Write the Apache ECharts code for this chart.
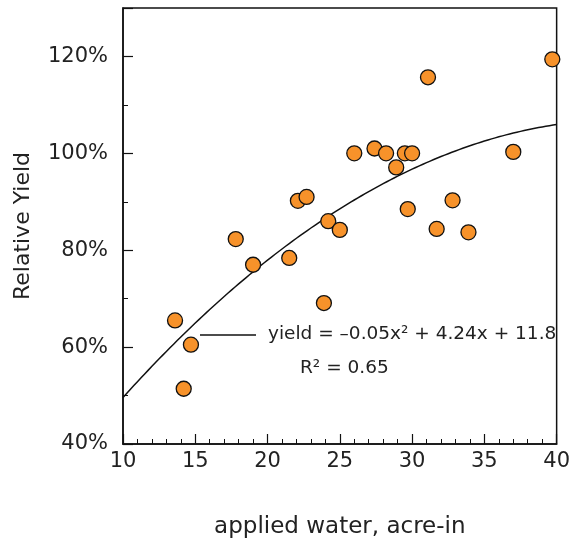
<!DOCTYPE html>
<html>
<head>
<meta charset="utf-8">
<script src="https://cdn.jsdelivr.net/npm/echarts@6/dist/echarts.min.js"></script>
<style>
  html, body { margin: 0; padding: 0; background: #fff; }
  #chart { width: 573px; height: 546px; }
</style>
</head>
<body>
<div id="chart"></div>
<script>
// Applied water (acre-in) for each plot
const appliedWater = [13.6, 14.2, 14.7, 17.8, 19.0, 21.5, 22.1, 22.7, 23.9, 24.2, 25.0,
  26.0, 27.4, 28.2, 28.9, 29.5, 30.0, 29.7, 31.1, 31.7, 32.8, 33.9, 37.0, 39.7];
// Relative yield (%) for each plot
const relativeYield = [65.5, 51.4, 60.5, 82.3, 77.0, 78.4, 90.2, 91.0, 69.1, 86.0, 84.2,
  100.0, 101.0, 100.0, 97.1, 100.0, 100.0, 88.5, 115.7, 84.4, 90.3, 83.7, 100.3, 119.4];
// Tick labels on the axes
const xTickLabels = ['10', '15', '20', '25', '30', '35', '40'];
const yTickLabels = ['40%', '60%', '80%', '100%', '120%'];
// Annotation text
const equationText = 'yield = –0.05x² + 4.24x + 11.8';
const r2Text = 'R² = 0.65';

// Quadratic least-squares fit of yield on applied water
function quadFit(xs, ys) {
  let S = [0, 0, 0, 0, 0], T = [0, 0, 0];
  for (let i = 0; i < xs.length; i++) {
    let p = 1;
    for (let k = 0; k < 5; k++) { S[k] += p; if (k < 3) T[k] += p * ys[i]; p *= xs[i]; }
  }
  const A = [[S[0], S[1], S[2], T[0]], [S[1], S[2], S[3], T[1]], [S[2], S[3], S[4], T[2]]];
  for (let c = 0; c < 3; c++) {
    for (let r = c + 1; r < 3; r++) {
      const f = A[r][c] / A[c][c];
      for (let k = c; k < 4; k++) A[r][k] -= f * A[c][k];
    }
  }
  const sol = [0, 0, 0];
  for (let r = 2; r >= 0; r--) {
    let s = A[r][3];
    for (let k = r + 1; k < 3; k++) s -= A[r][k] * sol[k];
    sol[r] = s / A[r][r];
  }
  return sol; // [c, b, a]
}
const coef = quadFit(appliedWater, relativeYield);
const fitLine = [];
for (let x = 10; x <= 40.0001; x += 0.25) {
  fitLine.push([x, coef[0] + coef[1] * x + coef[2] * x * x]);
}

const points = appliedWater.map((x, i) => [x, relativeYield[i]]);
const font = 'DejaVu Sans';
const textColor = '#222';

const chart = echarts.init(document.getElementById('chart'));
chart.setOption({
  animation: false,
  grid: { left: 123, right: 14, top: 8, bottom: 102, show: true, borderColor: '#111', borderWidth: 1.5, backgroundColor: 'transparent' },
  xAxis: {
    type: 'value', min: 10, max: 40, interval: 5,
    name: 'applied water, acre-in', nameLocation: 'middle', nameGap: 72,
    nameTextStyle: { fontFamily: font, fontSize: 23, color: textColor },
    axisLine: { lineStyle: { color: '#111', width: 1.5 } },
    axisTick: { inside: true, length: 10, lineStyle: { color: '#111', width: 1.2 } },
    minorTick: { show: true, splitNumber: 5, length: 5, lineStyle: { color: '#111', width: 1 } },
    splitLine: { show: false },
    axisLabel: {
      margin: 7, fontFamily: font, fontSize: 21, color: textColor,
      formatter: v => xTickLabels.includes(String(v)) ? String(v) : ''
    }
  },
  yAxis: [{
    type: 'value', min: 40, max: 130, interval: 10,
    name: 'Relative Yield', nameLocation: 'middle', nameGap: 89,
    nameTextStyle: { fontFamily: font, fontSize: 22, color: textColor },
    axisLine: { lineStyle: { color: '#111', width: 1.5 } },
    axisTick: { inside: true, length: 5, lineStyle: { color: '#111', width: 1 } },
    splitLine: { show: false },
    axisLabel: {
      margin: 15, fontFamily: font, fontSize: 21, color: textColor,
      formatter: v => { const s = v + '%'; return yTickLabels.includes(s) ? s : ''; }
    }
  }, {
    type: 'value', min: 40, max: 130, interval: 20, position: 'left',
    axisLine: { show: false },
    axisTick: { inside: true, length: 10, lineStyle: { color: '#111', width: 1.2 } },
    splitLine: { show: false },
    axisLabel: { show: false }
  }],
  series: [{
    type: 'line', data: fitLine, showSymbol: false, symbol: 'none',
    lineStyle: { color: '#111', width: 1.5 }, z: 2
  }, {
    type: 'scatter', data: points, symbol: 'circle', symbolSize: 15,
    itemStyle: { color: '#F7922A', borderColor: '#111', borderWidth: 1.3, opacity: 1 }, z: 3
  }],
  graphic: [
    { type: 'line', shape: { x1: 200, y1: 335, x2: 256, y2: 335 }, style: { stroke: '#111', lineWidth: 1.3 } },
    { type: 'text', left: 268, top: 325, style: { text: equationText, font: '18.5px "DejaVu Sans"', fill: textColor } },
    { type: 'text', left: 300, top: 359, style: { text: r2Text, font: '18.5px "DejaVu Sans"', fill: textColor } }
  ]
});
</script>
</body>
</html>
